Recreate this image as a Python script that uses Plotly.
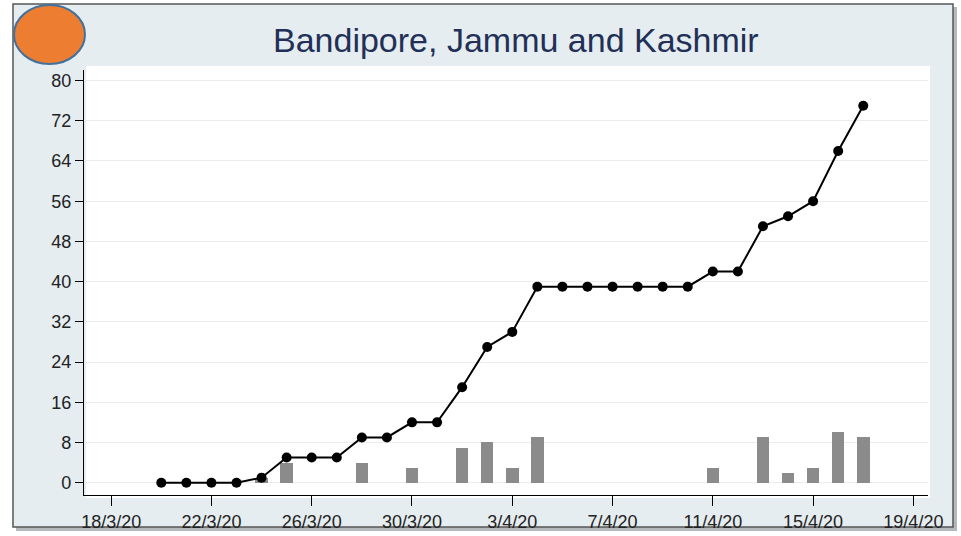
import plotly.graph_objects as go

# Data
dates = [
    "2020-03-20", "2020-03-21", "2020-03-22", "2020-03-23", "2020-03-24",
    "2020-03-25", "2020-03-26", "2020-03-27", "2020-03-28", "2020-03-29",
    "2020-03-30", "2020-03-31", "2020-04-01", "2020-04-02", "2020-04-03",
    "2020-04-04", "2020-04-05", "2020-04-06", "2020-04-07", "2020-04-08",
    "2020-04-09", "2020-04-10", "2020-04-11", "2020-04-12", "2020-04-13",
    "2020-04-14", "2020-04-15", "2020-04-16", "2020-04-17",
]
cumulative = [0, 0, 0, 0, 1, 5, 5, 5, 9, 9, 12, 12, 19, 27, 30,
              39, 39, 39, 39, 39, 39, 39, 42, 42, 51, 53, 56, 66, 75]
daily_new = [0, 0, 0, 0, 1, 4, 0, 0, 4, 0, 3, 0, 7, 8, 3,
             9, 0, 0, 0, 0, 0, 0, 3, 0, 9, 2, 3, 10, 9]
y_ticks = [0, 8, 16, 24, 32, 40, 48, 56, 64, 72, 80]
title = "Bandipore, Jammu and Kashmir"

W, H = 961, 536
L, R, T, B = 84, 928, 70, 495   # plot area in pixels


def px(x):
    return (x - L) / (R - L)


def py(y):
    return (B - y) / (B - T)


FONT = "Liberation Sans, Arial, sans-serif"

fig = go.Figure()
fig.add_trace(go.Bar(
    x=dates, y=daily_new, width=12 * 3600 * 1000,
    marker=dict(color="#8b8b8b", line=dict(width=0)),
    showlegend=False,
))
fig.add_trace(go.Scatter(
    x=dates, y=cumulative, mode="lines+markers",
    line=dict(color="#000000", width=2),
    marker=dict(color="#000000", size=10),
    showlegend=False,
))

shapes = [
    # shadow
    dict(type="rect", xref="paper", yref="paper", layer="below",
         x0=px(16), x1=px(957), y0=py(531), y1=py(7),
         fillcolor="#b5b9bb", line=dict(width=0)),
    # outer frame with pale background
    dict(type="rect", xref="paper", yref="paper", layer="below",
         x0=px(13), x1=px(953), y0=py(527), y1=py(4),
         fillcolor="#e5edf0", line=dict(color="#555555", width=1.5)),
    # white plotting region
    dict(type="rect", xref="paper", yref="paper", layer="below",
         x0=px(86), x1=px(930), y0=py(498), y1=py(66),
         fillcolor="#ffffff", line=dict(width=0)),
    # orange marker ellipse
    dict(type="circle", xref="paper", yref="paper", layer="above",
         x0=px(14), x1=px(85), y0=py(64), y1=py(5),
         fillcolor="#ed7d31", line=dict(color="#41719c", width=2)),
]

fig.update_layout(
    width=W, height=H,
    margin=dict(l=L, r=W - R, t=T, b=H - B, pad=0, autoexpand=False),
    paper_bgcolor="#ffffff",
    plot_bgcolor="rgba(0,0,0,0)",
    font=dict(family=FONT, size=18, color="#222222"),
    shapes=shapes,
    bargap=0,
    annotations=[dict(
        text=title, xref="paper", yref="paper",
        x=px(516), y=py(40), xanchor="center", yanchor="middle",
        showarrow=False, font=dict(family=FONT, size=34, color="#223057"),
    )],
    xaxis=dict(
        type="date", automargin=False,
        range=["2020-03-16 22:00", "2020-04-19 14:00"],
        tick0="2020-03-18", dtick=4 * 86400000,
        tickformat="%-d/%-m/%y",
        ticks="outside", ticklen=10, tickcolor="#000000",
        showline=True, linecolor="#000000", linewidth=1.2,
        showgrid=False, zeroline=False,
        tickfont=dict(size=18, color="#222222"),
    ),
    yaxis=dict(
        automargin=False,
        range=[-2.45, 82.1],
        tickvals=y_ticks,
        ticks="outside", ticklen=8, tickcolor="#000000",
        showline=True, linecolor="#000000", linewidth=1.2,
        showgrid=True, gridcolor="#ececec", gridwidth=1,
        zeroline=False,
        tickfont=dict(size=18, color="#222222"),
    ),
)

fig.write_html("out.html", config={"displayModeBar": False},
               post_script="document.body.style.margin='0';")
